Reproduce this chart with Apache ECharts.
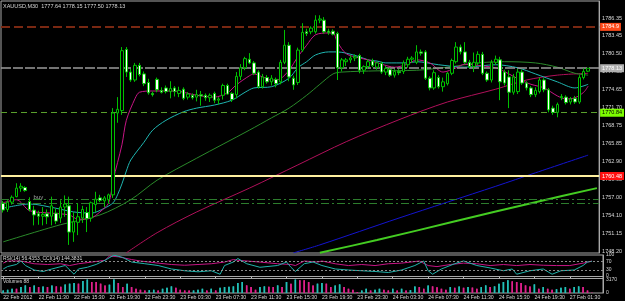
<!DOCTYPE html>
<html>
<head>
<meta charset="utf-8">
<script src="https://cdn.jsdelivr.net/npm/echarts@6/dist/echarts.min.js"></script>
<style>
html, body { margin: 0; padding: 0; background: #000; }
#main { width: 625px; height: 301px; }
</style>
</head>
<body>
<div id="main"></div>
<script>
// XAUUSD M30, 22 Feb 2012 07:30 .. 27 Feb 2012
var pad = function (n) { return (n < 10 ? '0' : '') + n; };
var timeLabels = [];
for (var i = 0; i < 136; i++) {
	var day, mins;
	if (i < 128) {
		var t = 450 + 30 * i;
		day = 22 + Math.floor(t / 1440);
		mins = t % 1440;
	} else {
		day = 27;
		mins = 90 + 30 * (i - 128);
	}
	timeLabels.push(day + ' Feb ' + pad(Math.floor(mins / 60)) + ':' + pad(mins % 60));
}

// [open, high, low, close]
var bars = [
	[1756.0,1756.4,1754.5,1754.9],[1755.0,1756.5,1754.6,1756.2],[1756.2,1757.3,1755.8,1757.0],[1757.1,1759.3,1757.0,1758.5],
	[1758.5,1759.3,1757.9,1758.8],[1758.6,1758.8,1757.9,1758.1],[1756.3,1757.0,1754.7,1755.0],[1754.9,1755.6,1752.4,1754.1],
	[1754.3,1754.8,1752.5,1753.9],[1753.9,1755.4,1752.4,1754.2],[1754.3,1755.0,1752.6,1753.8],[1753.9,1757.1,1752.4,1755.6],
	[1754.4,1755.2,1752.6,1753.1],[1753.6,1756.5,1752.8,1755.4],[1755.4,1757.3,1753.8,1755.9],[1755.6,1757.1,1749.2,1751.3],
	[1751.3,1754.6,1749.7,1753.0],[1752.9,1756.0,1750.8,1753.8],[1753.6,1755.6,1752.8,1755.0],[1754.5,1755.4,1751.3,1753.5],
	[1753.6,1756.3,1753.0,1756.1],[1755.8,1757.9,1754.6,1756.7],[1756.9,1757.4,1756.2,1756.5],[1756.4,1757.2,1755.4,1756.9],
	[1756.6,1757.6,1756.0,1757.4],[1757.4,1771.6,1756.9,1770.8],[1770.8,1773.4,1769.2,1771.4],[1771.2,1781.6,1770.5,1781.0],
	[1781.2,1781.6,1776.7,1777.5],[1777.5,1778.0,1775.9,1776.2],[1776.2,1779.0,1775.9,1778.6],[1778.6,1779.0,1776.8,1777.1],
	[1777.2,1777.6,1775.2,1775.6],[1775.8,1776.4,1773.8,1774.1],[1774.0,1774.3,1773.5,1773.8],[1776.3,1776.6,1774.2,1774.6],
	[1774.5,1775.0,1774.0,1774.2],[1774.9,1775.3,1774.0,1774.3],[1774.3,1776.0,1773.2,1774.8],[1774.9,1775.2,1773.5,1774.3],
	[1774.0,1775.1,1773.4,1774.5],[1774.7,1775.0,1772.9,1773.2],[1773.4,1774.2,1773.0,1773.9],[1773.7,1774.0,1773.0,1773.3],
	[1773.4,1774.6,1772.7,1773.8],[1773.8,1774.4,1772.0,1773.6],[1773.7,1774.0,1772.8,1773.3],[1773.3,1774.0,1772.6,1773.7],
	[1774.0,1774.3,1772.4,1772.9],[1772.9,1773.4,1772.2,1773.1],[1773.7,1775.6,1773.0,1775.3],[1775.3,1775.6,1773.8,1773.9],
	[1774.0,1774.2,1772.6,1773.0],[1773.8,1777.5,1773.2,1776.8],[1776.8,1778.8,1776.2,1778.2],[1778.2,1780.0,1777.8,1779.7],
	[1779.6,1780.6,1778.8,1779.0],[1779.0,1779.3,1777.0,1777.3],[1777.5,1777.8,1774.8,1775.1],[1775.1,1777.2,1774.8,1776.7],
	[1776.6,1777.0,1775.6,1775.9],[1775.9,1777.0,1775.3,1776.5],[1776.3,1776.6,1775.0,1775.6],[1775.9,1779.5,1775.5,1779.1],
	[1779.1,1784.4,1778.8,1781.9],[1781.9,1782.4,1776.0,1776.7],[1776.5,1776.9,1774.6,1775.4],[1775.8,1781.5,1775.4,1781.1],
	[1781.1,1785.5,1780.8,1784.0],[1784.1,1784.6,1783.4,1783.8],[1784.1,1785.0,1783.7,1784.7],[1784.1,1786.8,1783.8,1786.0],
	[1786.0,1786.8,1785.5,1786.2],[1786.0,1786.5,1783.8,1784.1],[1784.2,1784.6,1783.6,1784.0],[1784.2,1784.5,1783.5,1783.7],
	[1783.8,1784.1,1776.2,1778.2],[1778.2,1779.8,1777.6,1779.5],[1779.2,1779.8,1778.5,1779.5],[1779.5,1780.2,1779.0,1779.8],
	[1779.8,1780.4,1779.3,1780.0],[1780.2,1780.5,1777.3,1777.8],[1777.8,1778.6,1777.2,1778.4],[1778.4,1779.6,1778.0,1779.2],
	[1779.3,1779.7,1778.3,1778.6],[1778.3,1779.2,1777.9,1779.0],[1778.9,1779.2,1777.2,1777.5],[1777.5,1778.5,1777.0,1778.1],
	[1777.9,1778.2,1776.7,1777.0],[1777.0,1778.0,1776.6,1777.6],[1777.6,1778.0,1777.0,1777.4],[1777.6,1779.4,1777.2,1779.0],
	[1778.7,1780.0,1778.2,1779.6],[1779.6,1780.1,1779.0,1779.8],[1779.1,1781.9,1778.8,1780.8],[1780.8,1781.2,1780.2,1780.6],
	[1780.8,1781.1,1776.2,1776.5],[1776.5,1776.8,1774.5,1774.9],[1774.9,1777.8,1774.6,1777.4],[1776.6,1777.0,1774.8,1775.1],
	[1775.1,1776.6,1774.3,1775.9],[1775.6,1777.5,1775.3,1777.3],[1777.3,1779.7,1777.0,1779.4],[1779.2,1782.4,1778.9,1781.6],
	[1781.6,1782.0,1780.4,1780.8],[1780.8,1782.4,1778.8,1779.1],[1779.1,1779.5,1778.1,1778.4],[1778.4,1780.7,1777.5,1779.1],
	[1779.0,1780.9,1778.6,1780.4],[1780.4,1780.8,1777.0,1777.3],[1777.3,1777.6,1775.9,1776.2],[1776.2,1779.5,1775.8,1779.1],
	[1779.1,1780.2,1778.7,1779.6],[1779.5,1780.0,1772.9,1775.9],[1777.5,1777.9,1775.3,1775.7],[1776.7,1777.8,1771.6,1774.2],
	[1774.2,1777.2,1773.8,1776.7],[1774.3,1778.0,1773.9,1777.5],[1777.5,1777.9,1775.4,1775.7],[1775.7,1776.0,1774.5,1774.9],
	[1774.9,1775.2,1773.4,1773.8],[1773.8,1775.0,1773.4,1774.5],[1774.3,1776.6,1774.0,1776.2],[1776.2,1776.5,1774.2,1774.6],
	[1774.6,1774.9,1770.9,1771.3],[1771.6,1772.0,1770.5,1770.9],[1770.9,1772.5,1770.1,1772.2],[1773.3,1773.9,1772.9,1773.5],
	[1773.4,1773.7,1772.2,1772.5],[1772.6,1773.4,1772.2,1773.1],[1773.2,1773.6,1772.3,1772.6],[1772.6,1777.0,1772.3,1776.6],
	[1776.6,1778.1,1776.3,1777.6],[1777.64,1778.15,1777.50,1778.13]
];

// moving averages, [bar index, price]
var maFast = [[0,1756.1],[3,1756.6],[6,1754.8],[11,1754.4],[15,1754.1],[17,1753.4],[20,1753.6],[22,1754.6],[24,1756.1],[25,1759.8],[27,1765.6],[28,1769.6],[30,1773.2],[31,1774.2],[34,1774.4],[39,1774.4],[44,1773.7],[48,1773.4],[51,1774.1],[53,1775.4],[56,1776.9],[57,1777.2],[59,1776.7],[61,1776.2],[63,1776.4],[65,1777.8],[67,1780.0],[69,1781.9],[71,1783.6],[74,1783.9],[75,1783.9],[76,1782.4],[78,1780.5],[81,1779.8],[83,1779.5],[86,1778.8],[89,1778.3],[92,1778.8],[94,1779.5],[97,1779.0],[100,1777.5],[103,1778.2],[105,1778.8],[109,1778.5],[112,1778.2],[115,1777.2],[117,1776.4],[120,1775.5],[123,1774.9],[126,1773.6],[128,1773.1],[130,1773.3],[132,1774.2],[133,1775.2]];
var maMid = [[0,1755.2],[6,1755.9],[12,1755.2],[16,1754.6],[20,1754.4],[23,1755.2],[25,1756.1],[26,1757.4],[27,1759.2],[28,1761.3],[29,1763.1],[32,1766.0],[34,1768.0],[37,1769.6],[41,1771.0],[44,1771.6],[48,1772.1],[52,1772.9],[55,1774.2],[57,1774.9],[61,1775.1],[65,1776.5],[67,1778.2],[69,1779.2],[71,1780.3],[74,1780.8],[76,1780.8],[78,1780.6],[81,1780.0],[83,1779.5],[85,1779.3],[87,1779.0],[92,1779.0],[94,1779.2],[99,1778.7],[105,1778.3],[112,1778.7],[117,1778.2],[121,1777.2],[126,1775.9],[130,1774.9],[133,1775.5]];
var maSlow = [[0,1749.7],[13,1752.5],[22,1754.1],[29,1756.6],[35,1759.8],[44,1763.4],[56,1768.0],[61,1770.0],[65,1771.6],[69,1773.7],[72,1775.5],[75,1777.2],[77,1777.5],[85,1777.7],[94,1777.8],[101,1778.3],[108,1779.0],[114,1779.2],[121,1779.0],[126,1778.3],[130,1777.3],[133,1777.0]];
var maLong = [[28,1747.9],[35,1751.2],[44,1754.6],[56,1758.5],[67,1762.3],[78,1766.1],[90,1769.7],[101,1772.6],[112,1774.7],[119,1776.2],[126,1777.0],[133,1777.3]];
var maBlue = [[66,1747.9],[72,1749.2],[90,1753.6],[112,1758.8],[121,1761.0],[133,1763.9]];
var trendLime = [[72,1747.9],[85,1750.0],[103,1753.1],[121,1756.2],[135,1758.5]];

// horizontal levels
var levelBrown = 1784.9;
var levelBid = 1778.13;
var levelGreen = 1770.84;
var levelRed = 1760.48;
var levelDashDot = [1756.66, 1756.0];

// right axis tick labels
var priceLabels = ['1748.20','1751.15','1754.10','1757.00','1759.95','1762.90','1765.85','1768.75','1771.70','1774.65','1777.60','1780.50','1783.45','1786.35'];
var rsiLevels = [100, 70, 30, 0];
var volLabels = [3170, 0];

// RSI / CCI, [bar index, value]
var rsiLine = [[0,61.5],[1,71.5],[4,71.5],[7,58.5],[10,55],[13,58.5],[15,50],[17,58.5],[20,66.5],[23,75],[24,95],[26,91.5],[29,78.5],[31,71.5],[35,61.5],[38,55],[41,51.5],[44,55],[47,58.5],[50,66.5],[52,78.5],[53,75],[58,66.5],[62,58.5],[65,55],[66,50],[68,71.5],[71,66.5],[72,71.5],[75,58.5],[78,50],[81,55],[84,50],[87,58.5],[90,61.5],[94,71.5],[96,50],[98,45],[101,55],[104,61.5],[107,58.5],[110,50],[113,55],[116,50],[119,55],[122,51.5],[125,50],[128,50],[131,61.5],[133,71.5]];
var cciLine = [[0,-119],[1,-36],[3,36],[4,155],[5,0],[7,-155],[9,-205],[11,-119],[14,0],[16,-299],[17,-119],[19,-61],[21,36],[23,180],[25,355],[27,277],[29,119],[32,61],[35,0],[38,-119],[41,-180],[44,-216],[47,-180],[49,-299],[50,0],[52,119],[53,241],[55,61],[58,-61],[62,0],[64,119],[65,-61],[66,-205],[68,61],[70,119],[72,0],[75,-119],[78,-155],[81,-180],[84,-205],[87,-240],[90,-155],[93,0],[95,155],[96,-180],[97,-299],[99,-119],[102,61],[104,155],[107,0],[110,-84],[113,-180],[115,-119],[116,-299],[119,-180],[122,-119],[124,-299],[126,-180],[129,-155],[131,0],[132,119],[133,144.4]];

var volumes = [610,780,1020,1020,1420,1830,1420,1830,1420,1590,1420,1830,1590,1500,2070,2240,2400,2240,2900,3220,
	2640,2640,2240,1830,2000,3220,2400,1420,2240,1420,1020,780,610,700,780,610,1020,1260,1590,1260,
	780,610,600,610,780,1020,610,1020,610,1260,1420,1500,1590,2400,2640,1830,1420,780,1420,1590,
	1500,1420,1830,1420,2640,2240,3220,3050,3050,2640,1830,2240,2400,2240,1420,1830,2070,1420,1020,800,
	200,610,1020,610,780,1020,780,610,1020,610,1020,610,700,1590,1420,1020,1830,1590,1400,1020,
	780,1420,1260,1590,1260,1420,1300,1020,1420,1830,1420,1590,2240,2640,3050,2800,2640,2400,1830,1590,
	2070,1020,1420,1020,780,900,1260,1420,1020,1420,1590,1420,610,88];

var FONT = 'Liberation Sans';
var TXT = '#d8d8d8';
var PMIN = 1747.874, PSTEP = 0.32607;

var candleData = bars.map(function (b) { return [b[0], b[3], b[2], b[1]]; });
var volData = volumes.map(function (v, k) { return [k, v]; });
// Volumes indicator: rising volume in teal, falling in magenta
var volUp = function (k) { return k === 0 || volumes[k] > volumes[k - 1]; };

function lvlLabel(bg, fg) {
	return {
		show: true, position: 'end', distance: 1, formatter: '{c}',
		backgroundColor: bg, color: fg, fontSize: 5.5, fontFamily: FONT,
		padding: [1, 2, 1, 2]
	};
}

function renderVolume(params, api) {
	var k = api.value(0);
	var top = api.coord([k, api.value(1)]);
	var base = api.coord([k, 0]);
	return {
		type: 'rect',
		shape: { x: top[0] - 0.75, y: top[1], width: 1.5, height: base[1] - top[1] },
		style: { fill: volUp(k) ? '#22c0b8' : '#e0208c' }
	};
}

// lower window holds RSI/CCI on top (255..276) and volumes below (278..293)
var myChart = echarts.init(document.getElementById('main'));
var option = {
	backgroundColor: '#000',
	animation: false,
	title: [
		{ text: 'XAUUSD,M30  1777.64 1778.15 1777.50 1778.13', left: 3, top: 3, padding: 0,
			textStyle: { color: TXT, fontSize: 5.5, fontWeight: 'normal', fontFamily: FONT } },
		{ text: 'RSI(14) 56.4353, CCI(14) 144.3831', left: 3, top: 256, padding: 0,
			textStyle: { color: TXT, fontSize: 5, fontWeight: 'normal', fontFamily: FONT } },
		{ text: 'Volumes 88', left: 3, top: 279, padding: 0,
			textStyle: { color: TXT, fontSize: 5, fontWeight: 'normal', fontFamily: FONT } }
	],
	grid: [
		{ left: 1, top: 1, width: 602, height: 252, show: true, borderColor: '#a8a8a8', borderWidth: 1 },
		{ left: 1, top: 255, width: 602, height: 38, show: true, borderColor: '#a8a8a8', borderWidth: 1 }
	],
	xAxis: [
		{ type: 'category', gridIndex: 0, data: timeLabels, show: false },
		{ type: 'category', gridIndex: 1, data: timeLabels,
			axisLine: { show: false },
			axisTick: { show: true, interval: 7, alignWithLabel: true, length: 2, lineStyle: { color: '#c0c0c0' } },
			axisLabel: { interval: 7, align: 'left', margin: 2, color: TXT, fontSize: 5.2, fontFamily: FONT,
				formatter: function (v, idx) { return idx === 0 ? '22 Feb 2012' : v; } },
			splitLine: { show: false } }
	],
	yAxis: [
		{ type: 'value', gridIndex: 0, position: 'right', min: PMIN, max: PMIN + 252 / 6.107, interval: PSTEP,
			axisLine: { show: true, lineStyle: { color: '#a8a8a8' } }, axisTick: { show: false }, splitLine: { show: false },
			axisLabel: { color: TXT, fontSize: 5.5, fontFamily: FONT, margin: 3,
				formatter: function (v) {
					var k = Math.round((v - 1748.20) / 2.9346);
					if (k >= 0 && k < priceLabels.length && Math.abs(v - (1748.20 + k * 2.9346)) < 0.02) return priceLabels[k];
					return '';
				} } },
		{ type: 'value', gridIndex: 1, position: 'right', min: -80, max: 100, interval: 10,
			axisLine: { show: true, lineStyle: { color: '#a8a8a8' } }, axisTick: { show: false }, splitLine: { show: false },
			axisLabel: { color: TXT, fontSize: 5, fontFamily: FONT, margin: 3,
				formatter: function (v) { return rsiLevels.indexOf(v) >= 0 ? String(v) : ''; } } },
		{ type: 'value', gridIndex: 1, min: 360 - 38 * 720 / 21, max: 360, show: false },
		{ type: 'value', gridIndex: 1, position: 'right', min: 0, max: 3600 * 38 / 15,
			axisLine: { show: false }, axisTick: { show: false }, splitLine: { show: false },
			axisLabel: { color: TXT, fontSize: 5, fontFamily: FONT, margin: 3, customValues: volLabels,
				formatter: function (v) { return volLabels.indexOf(v) >= 0 ? String(v) : ''; } } }
	],
	series: [
		{
			type: 'candlestick', xAxisIndex: 0, yAxisIndex: 0, data: candleData, barWidth: 3, z: 5,
			itemStyle: { color: '#000', color0: '#ffffff', borderColor: '#00c000', borderColor0: '#00c000', borderWidth: 1 },
			markLine: {
				silent: true, symbol: 'none', precision: 2,
				data: [
					{ yAxis: levelBrown, lineStyle: { color: '#7a2812', type: [9, 4], width: 2 }, label: lvlLabel('#ff4a1a', '#ffffff') },
					{ yAxis: levelBid, lineStyle: { color: '#9a9a9a', type: [10, 2], width: 1.5 }, label: lvlLabel('#b0b0b0', '#ffffff') },
					{ yAxis: levelGreen, lineStyle: { color: '#5aa02c', type: [6, 4], width: 1 }, label: lvlLabel('#7cfc00', '#000000') },
					{ yAxis: levelRed, lineStyle: { color: '#fff0a0', type: 'solid', width: 2 }, label: lvlLabel('#ff1010', '#ffffff') },
					{ yAxis: levelDashDot[0], lineStyle: { color: '#2d7d2d', type: [8, 3, 2, 3], width: 1 }, label: { show: false } },
					{ yAxis: levelDashDot[1], lineStyle: { color: '#2d7d2d', type: [8, 3, 2, 3], width: 1 }, label: { show: false } }
				]
			},
			markPoint: {
				symbol: 'rect', symbolSize: 0,
				data: [{ coord: [8, 1757.0], label: { show: true, formatter: 'buy', color: '#a0a0a0', fontSize: 6, fontFamily: FONT } }]
			}
		},
		{ type: 'line', xAxisIndex: 0, yAxisIndex: 0, data: maLong, smooth: 0.3, showSymbol: false, lineStyle: { color: '#b0105a', width: 1 } },
		{ type: 'line', xAxisIndex: 0, yAxisIndex: 0, data: maBlue, smooth: 0.3, showSymbol: false, lineStyle: { color: '#1414d0', width: 1 } },
		{ type: 'line', xAxisIndex: 0, yAxisIndex: 0, data: trendLime, smooth: 0.3, showSymbol: false, lineStyle: { color: '#44cc22', width: 2 } },
		{ type: 'line', xAxisIndex: 0, yAxisIndex: 0, data: maSlow, smooth: 0.3, showSymbol: false, lineStyle: { color: '#2a8a2a', width: 1 } },
		{ type: 'line', xAxisIndex: 0, yAxisIndex: 0, data: maMid, smooth: 0.3, showSymbol: false, lineStyle: { color: '#1fb5b0', width: 1 } },
		{ type: 'line', xAxisIndex: 0, yAxisIndex: 0, data: maFast, smooth: 0.3, showSymbol: false, lineStyle: { color: '#c71585', width: 1 } },
		{
			type: 'line', xAxisIndex: 1, yAxisIndex: 1, data: rsiLine, showSymbol: false, lineStyle: { color: '#c71585', width: 1 },
			markLine: { silent: true, symbol: 'none', label: { show: false },
				data: [
					{ yAxis: 70, lineStyle: { color: '#8a8a8a', type: [2, 2], width: 1 } },
					{ yAxis: 30, lineStyle: { color: '#8a8a8a', type: [2, 2], width: 1 } },
					{ yAxis: 0, lineStyle: { color: '#a8a8a8', type: 'solid', width: 1 } },
					{ yAxis: -9, lineStyle: { color: '#a8a8a8', type: 'solid', width: 1 } }
				] }
		},
		{ type: 'line', xAxisIndex: 1, yAxisIndex: 2, data: cciLine, showSymbol: false, lineStyle: { color: '#20b2aa', width: 1 } },
		{ type: 'bar', xAxisIndex: 1, yAxisIndex: 3, data: volumes, barWidth: 1.5,
			itemStyle: { color: function (p) { return volUp(p.dataIndex) ? '#22c0b8' : '#e0208c'; } } },
		{ type: 'custom', xAxisIndex: 1, yAxisIndex: 3, data: volData, encode: { x: 0, y: 1 }, renderItem: renderVolume }
	]
};
myChart.setOption(option);
</script>
</body>
</html>
